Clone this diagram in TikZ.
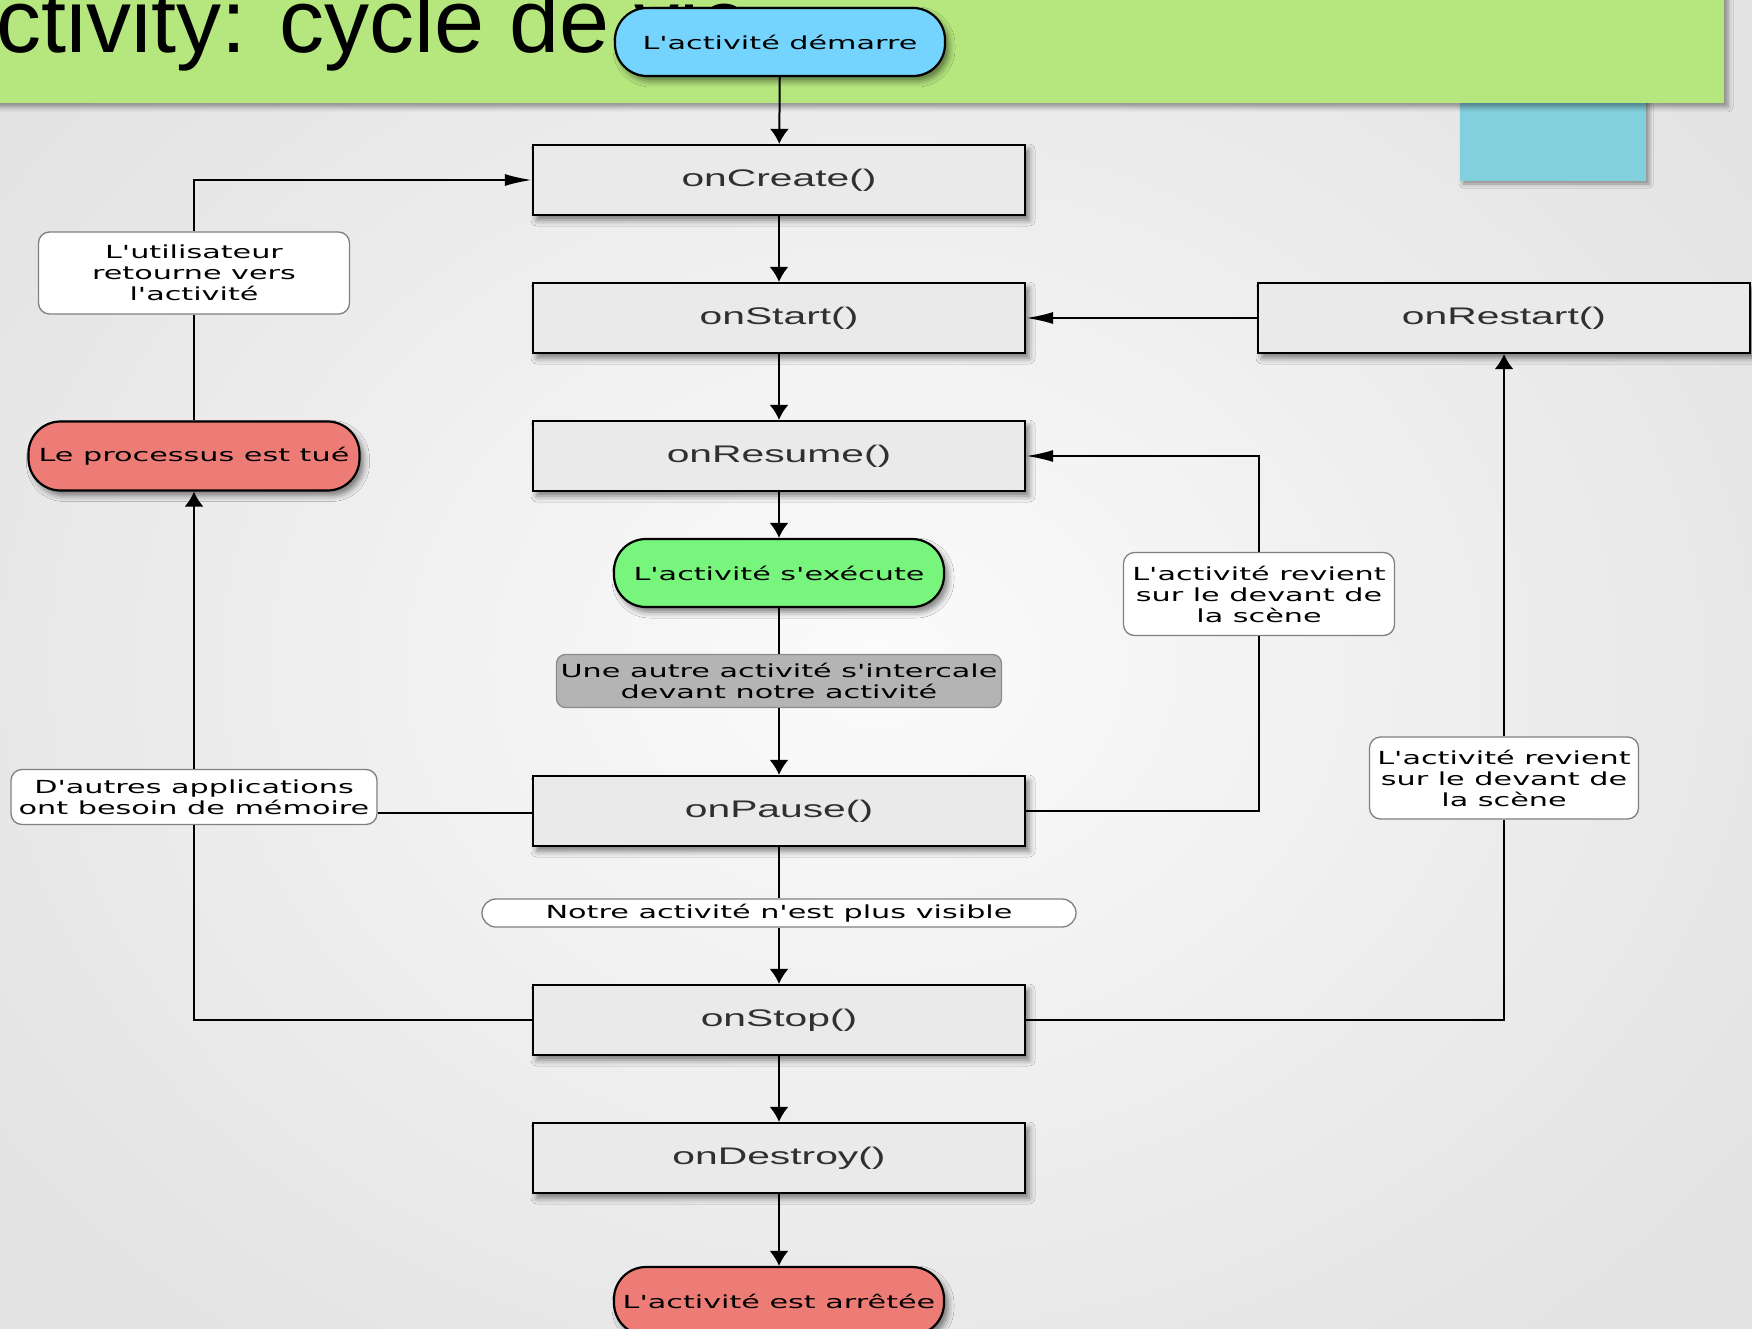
\documentclass[tikz,border=0pt]{standalone}
\usepackage{fontspec}
\setmainfont{DejaVu Sans}
\newfontfamily\titlefont{Liberation Sans}
\newfontfamily\mfont[FakeStretch=1.7]{Liberation Sans}
\newfontfamily\lfont[FakeStretch=1.68]{DejaVu Sans}
\usetikzlibrary{arrows.meta,shadows.blur}
\definecolor{bannergreen}{HTML}{B5E77E}
\definecolor{bluerect}{HTML}{82D0DD}
\definecolor{startblue}{HTML}{75D4FE}
\definecolor{rungreen}{HTML}{78F57C}
\definecolor{redfill}{HTML}{EE7C76}
\definecolor{boxgray}{HTML}{EAEAEA}
\definecolor{intergray}{HTML}{B4B4B4}
\definecolor{methtext}{HTML}{303030}
\tikzset{
  softshadow/.style={blur shadow={shadow xshift=4pt, shadow yshift=-5pt, shadow blur radius=6pt, shadow opacity=50}},
  method/.style={draw=black, line width=2.2pt, fill=boxgray, minimum width=492pt, minimum height=70pt,
    inner sep=0pt, font=\mfont\fontsize{24}{28}\selectfont, text=methtext, softshadow},
  term/.style={draw=black, line width=2.2pt, rounded corners=32pt, minimum width=330pt, minimum height=68pt,
    inner sep=0pt, font=\lfont\fontsize{18}{21}\selectfont, softshadow},
  lab/.style={draw=black!50, line width=1.3pt, fill=white, rounded corners=11pt, align=center,
    inner sep=0pt, font=\lfont\fontsize{18}{21}\selectfont},
  conn/.style={line width=2pt, draw=black},
  varr/.style={-{Latex[length=15pt,width=19pt]}},
  harr/.style={-{Latex[length=27pt,width=12pt]}},
}
\begin{document}
\begin{tikzpicture}[x=1pt,y=-1pt]
\useasboundingbox (0,0) rectangle (1752,1329);
\clip (0,0) rectangle (1752,1329);
% background
\shade[inner color=gray!3, outer color=gray!22] (-200,-200) rectangle (1952,1529);
% slide decorations
\fill[bluerect, blur shadow={shadow xshift=3pt, shadow yshift=-3pt, shadow blur radius=4pt, shadow opacity=40}] (1460,90) rectangle (1646,181);
\fill[bannergreen, blur shadow={shadow xshift=4pt, shadow yshift=-4pt, shadow blur radius=5pt, shadow opacity=40}] (-20,-20) rectangle (1724,103);
\node[anchor=base west, inner sep=0pt, font=\titlefont\fontsize{90}{100}\selectfont] (title) at (-64,53) {Activity: cycle de vie};

% main column
\node[term, fill=startblue] (start) at (780,42) {L'activité démarre};
\node[method] (create) at (779,180) {onCreate()};
\node[method] (startm) at (779,318) {onStart()};
\node[method] (resume) at (779,456) {onResume()};
\node[term, fill=rungreen] (run) at (779,573) {L'activité s'exécute};
\node[lab, fill=intergray, draw=black!45, rounded corners=9pt, minimum width=445pt, minimum height=53pt] (inter) at (779,681) {Une autre activité s'intercale\\devant notre activité};
\node[method] (pause) at (779,811) {onPause()};
\node[lab, rounded corners=14pt, minimum width=594pt, minimum height=28pt] (notvis) at (779,913) {Notre activité n'est plus visible};
\node[method] (stop) at (779,1020) {onStop()};
\node[method] (destroy) at (779,1158) {onDestroy()};
\node[term, fill=redfill] (ended) at (779,1301) {L'activité est arrêtée};

% right column
\node[method] (restart) at (1504,318) {onRestart()};
\node[lab, minimum width=271pt, minimum height=83pt] (rev1) at (1259,594) {L'activité revient\\sur le devant de\\la scène};
\node[lab, minimum width=269pt, minimum height=82pt] (rev2) at (1504,778) {L'activité revient\\sur le devant de\\la scène};

% left column
\node[lab, minimum width=311pt, minimum height=82pt] (user) at (194,273) {L'utilisateur\\retourne vers\\l'activité};
\node[term, fill=redfill, minimum width=331pt, minimum height=69pt] (killed) at (194,456) {Le processus est tué};
\node[lab, minimum width=366pt, minimum height=55pt] (mem) at (194,797) {D'autres applications\\ont besoin de mémoire};

% connectors
\draw[conn,varr] (start) -- (create);
\draw[conn,varr] (create) -- (startm);
\draw[conn,varr] (startm) -- (resume);
\draw[conn,varr] (resume) -- (run);
\draw[conn] (run) -- (inter);
\draw[conn,varr] (inter) -- (pause);
\draw[conn] (pause) -- (notvis);
\draw[conn,varr] (notvis) -- (stop);
\draw[conn,varr] (stop) -- (destroy);
\draw[conn,varr] (destroy) -- (ended);
\draw[conn,harr] (restart) -- (startm);
\draw[conn] (killed) -- (user);
\draw[conn,harr] (user.north) |- (create.west);
\draw[conn] (stop.west) -| (mem.south);
\draw[conn,varr] (mem.north) -- (killed.south);
\draw[conn] ([yshift=-2pt]pause.west) -- ([yshift=-2pt]pause.west -| mem.east);
\draw[conn] (pause.east) -| (rev1.south);
\draw[conn,harr] (rev1.north) |- (resume.east);
\draw[conn] (stop.east) -| (rev2.south);
\draw[conn,varr] (rev2.north) -- (restart.south);
\end{tikzpicture}
\end{document}
